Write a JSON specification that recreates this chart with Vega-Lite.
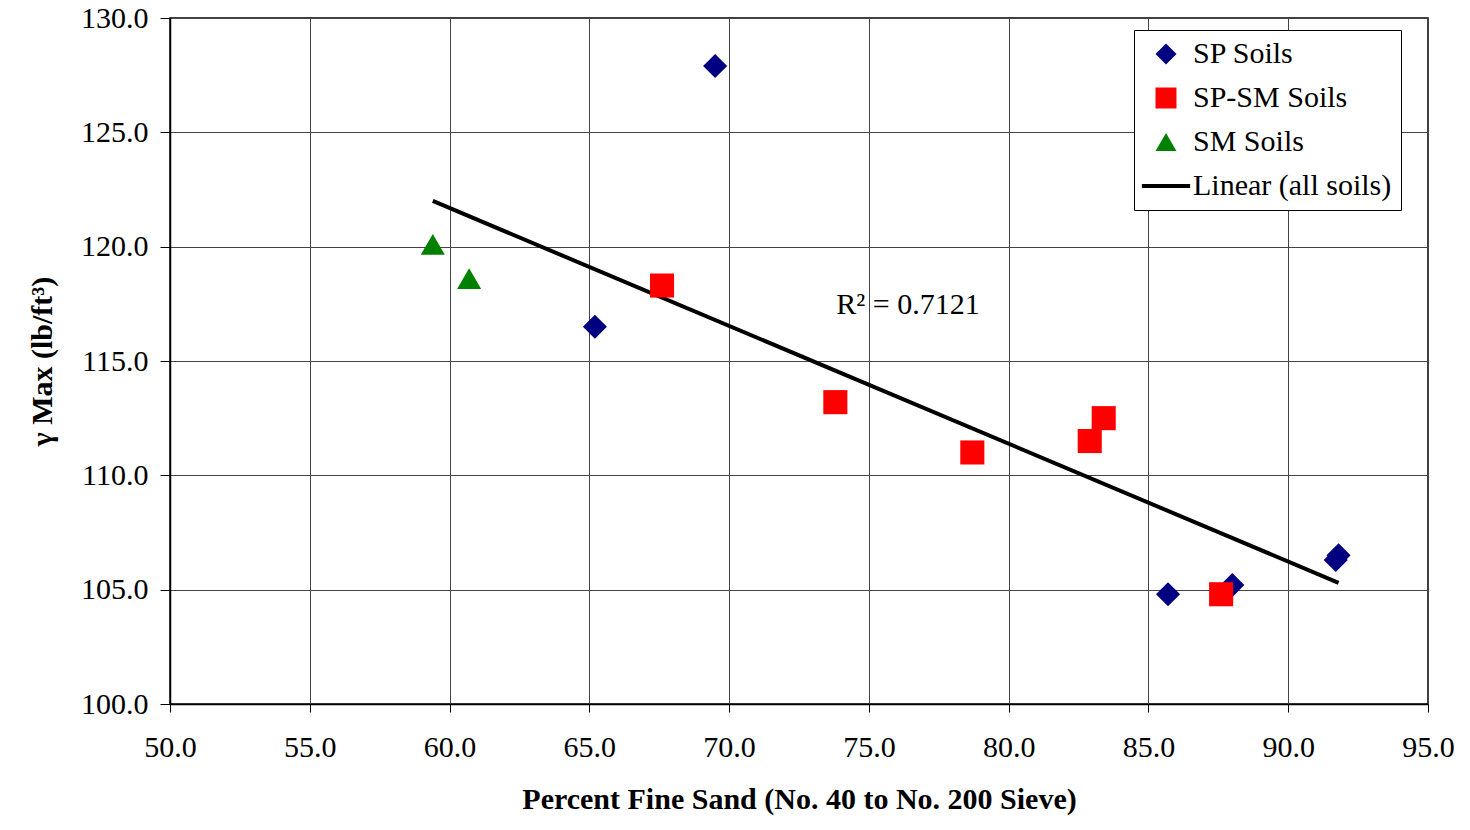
{
  "$schema": "https://vega.github.io/schema/vega-lite/v6.json",
  "width": 1258,
  "height": 686,
  "autosize": {"type": "none"},
  "padding": {"left": 170, "top": 18, "right": 42, "bottom": 126},
  "background": "white",
  "config": {
    "font": "Liberation Serif",
    "view": {"stroke": "black", "strokeWidth": 1.5},
    "legend": {"strokeColor": "black", "fillColor": "white", "labelFont": "Liberation Serif", "labelFontSize": 30, "labelColor": "black"},
    "axis": {
      "labelFont": "Liberation Serif",
      "titleFont": "Liberation Serif",
      "labelFontSize": 30,
      "titleFontSize": 30,
      "labelColor": "black",
      "titleColor": "black",
      "domainColor": "black",
      "domainWidth": 1.5,
      "tickColor": "black",
      "tickWidth": 1,
      "gridColor": "#444",
      "gridWidth": 1,
      "gridOpacity": 1
    }
  },
  "datasets": {
    "points": [
      {"sand": 69.5, "gamma": 127.9, "series": "SP Soils"},
      {"sand": 65.2, "gamma": 116.5, "series": "SP Soils"},
      {"sand": 85.7, "gamma": 104.8, "series": "SP Soils"},
      {"sand": 88.0, "gamma": 105.2, "series": "SP Soils"},
      {"sand": 91.7, "gamma": 106.3, "series": "SP Soils"},
      {"sand": 91.8, "gamma": 106.5, "series": "SP Soils"},
      {"sand": 67.6, "gamma": 118.3, "series": "SP-SM Soils"},
      {"sand": 73.8, "gamma": 113.2, "series": "SP-SM Soils"},
      {"sand": 78.7, "gamma": 111.0, "series": "SP-SM Soils"},
      {"sand": 82.9, "gamma": 111.5, "series": "SP-SM Soils"},
      {"sand": 83.4, "gamma": 112.5, "series": "SP-SM Soils"},
      {"sand": 87.6, "gamma": 104.8, "series": "SP-SM Soils"},
      {"sand": 59.4, "gamma": 120.1, "series": "SM Soils"},
      {"sand": 60.7, "gamma": 118.6, "series": "SM Soils"}
    ],
    "trend": [
      {"sand": 59.4, "gamma": 122.0},
      {"sand": 91.8, "gamma": 105.3}
    ],
    "note": [
      {"sand": 76.4, "gamma": 117.45, "label": "R² = 0.7121"}
    ]
  },
  "layer": [
    {
      "data": {"name": "trend"},
      "mark": {"type": "line", "color": "black", "strokeWidth": 4},
      "encoding": {
        "x": {
          "field": "sand", "type": "quantitative",
          "scale": {"domain": [50, 95], "nice": false, "zero": false},
          "axis": {
            "values": [50, 55, 60, 65, 70, 75, 80, 85, 90, 95],
            "format": ".1f",
            "title": "Percent Fine Sand (No. 40 to No. 200 Sieve)",
            "titleFontWeight": "bold",
            "tickSize": 8,
            "labelPadding": 20,
            "titlePadding": 22,
            "labelFlush": false,
            "grid": true
          }
        },
        "y": {
          "field": "gamma", "type": "quantitative",
          "scale": {"domain": [100, 130], "nice": false, "zero": false},
          "axis": {
            "values": [100, 105, 110, 115, 120, 125, 130],
            "format": ".1f",
            "title": "γ Max (lb/ft³)",
            "titleFontWeight": "bold",
            "tickSize": 10,
            "labelPadding": 12,
            "titlePadding": 23,
            "labelFlush": false,
            "grid": true
          }
        }
      }
    },
    {
      "data": {"name": "points"},
      "mark": {"type": "point", "filled": true, "opacity": 1, "size": 580},
      "encoding": {
        "x": {"field": "sand", "type": "quantitative"},
        "y": {"field": "gamma", "type": "quantitative"},
        "color": {
          "field": "series", "type": "nominal",
          "scale": {
            "domain": ["SP Soils", "SP-SM Soils", "SM Soils", "Linear (all soils)"],
            "range": ["#000080", "#FF0000", "#008000", "#000000"]
          },
          "legend": {
            "title": null,
            "orient": "none",
            "legendX": 964,
            "legendY": 12,
            "padding": 9,
            "labelFont": "Liberation Serif",
            "labelOffset": 12,
            "rowPadding": 14,
            "symbolSize": 440,
            "symbolOffset": 8,
            "labelLimit": 400
          }
        },
        "shape": {
          "field": "series", "type": "nominal",
          "scale": {
            "domain": ["SP Soils", "SP-SM Soils", "SM Soils", "Linear (all soils)"],
            "range": ["diamond", "square", "triangle-up", "M-2.3,-0.19H2.3V0.19H-2.3Z"]
          }
        }
      }
    },
    {
      "data": {"name": "note"},
      "mark": {"type": "text", "font": "Liberation Serif", "fontSize": 30, "color": "black", "align": "center", "baseline": "middle"},
      "encoding": {
        "x": {"field": "sand", "type": "quantitative"},
        "y": {"field": "gamma", "type": "quantitative"},
        "text": {"field": "label"}
      }
    }
  ]
}
